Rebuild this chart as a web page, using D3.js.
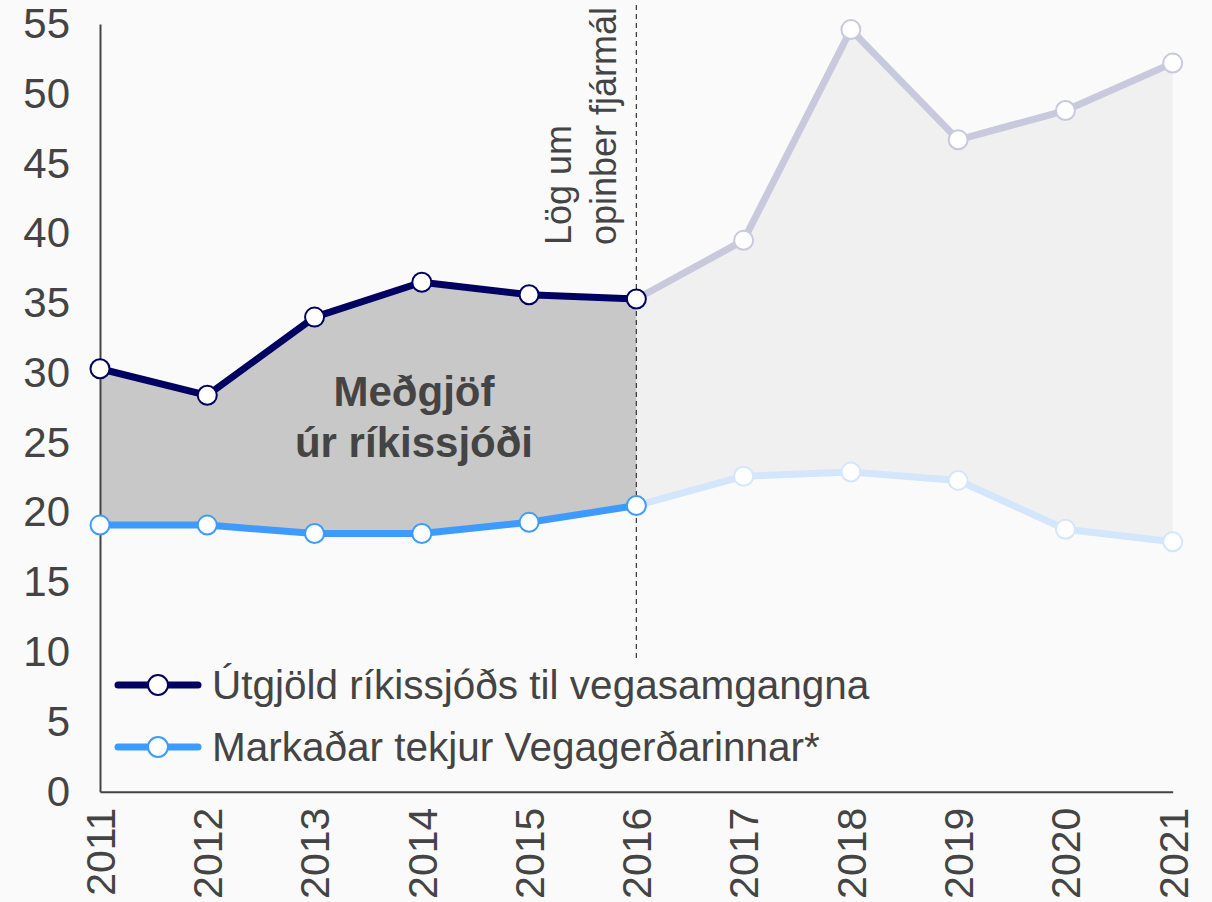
<!DOCTYPE html>
<html>
<head>
<meta charset="utf-8">
<script src="https://cdn.jsdelivr.net/npm/d3@7"></script>
<style>
  body { margin: 0; background: #fafafa; }
  text { font-family: "Liberation Sans", Arial, sans-serif; fill: #444; }
</style>
</head>
<body>
<div id="chart"></div>
<script>
var years = [2011, 2012, 2013, 2014, 2015, 2016, 2017, 2018, 2019, 2020, 2021]
var utgjold = [30.3, 28.4, 34.0, 36.5, 35.6, 35.3, 39.5, 54.6, 46.7, 48.8, 52.2]
var markadar = [19.1, 19.1, 18.5, 18.5, 19.3, 20.5, 22.6, 22.9, 22.3, 18.8, 17.9]
var yTicks = [0, 5, 10, 15, 20, 25, 30, 35, 40, 45, 50, 55]
var splitYear = 2016
var legendLabels = ['Útgjöld ríkissjóðs til vegasamgangna', 'Markaðar tekjur Vegagerðarinnar*']

var width = 1212, height = 902
var colDark = '#000060', colBlue = '#3d9bff'
var colDarkFade = '#c8c9dd', colBlueFade = '#d3e6fb'

var svg = d3.select('#chart').append('svg')
  .attr('width', width)
  .attr('height', height)

var x = d3.scalePoint().domain(years).range([100, 1172.7])
var y = d3.scaleLinear().domain([0, 55]).range([791.7, 24])

var data = years.map((d, i) => ({year: d, a: utgjold[i], b: markadar[i]}))
var before = data.filter(d => d.year <= splitYear)
var after = data.filter(d => d.year >= splitYear)

var area = d3.area()
  .x(d => x(d.year))
  .y0(d => y(d.b))
  .y1(d => y(d.a))

svg.append('path').datum(after).attr('d', area).attr('fill', '#f0f0f0')
svg.append('path').datum(before).attr('d', area).attr('fill', '#c8c8c8')

// axes
var yAxis = svg.append('g')
  .attr('transform', 'translate(100,0)')
  .call(d3.axisLeft(y).tickValues(yTicks).tickSize(0).tickPadding(30))
yAxis.select('.domain').attr('stroke', '#444').attr('stroke-width', 2)
yAxis.selectAll('text').style('font-size', '42px').attr('fill', '#484848')

var xAxis = svg.append('g')
  .attr('transform', 'translate(0,791.7)')
  .call(d3.axisBottom(x).tickSize(0).tickFormat(d3.format('d')))
xAxis.select('.domain').attr('stroke', '#444').attr('stroke-width', 2)
xAxis.selectAll('text')
  .style('font-size', '41px')
  .attr('fill', '#484848')
  .attr('text-anchor', 'end')
  .attr('dy', '0.35em')
  .attr('transform', 'translate(0,16) rotate(-90)')
  .attr('y', 0)

// dashed line at 2016
svg.append('line')
  .attr('x1', x(splitYear)).attr('x2', x(splitYear))
  .attr('y1', 5).attr('y2', 661.7)
  .attr('stroke', '#333').attr('stroke-width', 1.2)
  .attr('stroke-dasharray', '5,4')

var note = svg.append('text')
  .attr('transform', 'translate(' + (x(splitYear) - 20) + ',245) rotate(-90)')
  .style('font-size', '36px')
note.append('tspan').attr('x', 0).attr('dy', '-1.25em').text('Lög um')
note.append('tspan').attr('x', 0).attr('dy', '1.25em').text('opinber fjármál')

var line = d3.line().x(d => x(d.year))

function drawSeries(rows, key, color) {
  svg.append('path').datum(rows)
    .attr('d', line.y(d => y(d[key])))
    .attr('fill', 'none')
    .attr('stroke', color)
    .attr('stroke-width', 7)
    .attr('stroke-linejoin', 'round')
}
drawSeries(after, 'a', colDarkFade)
drawSeries(after, 'b', colBlueFade)
drawSeries(before, 'a', colDark)
drawSeries(before, 'b', colBlue)

function drawDots(rows, key, color) {
  svg.append('g').selectAll('circle')
    .data(rows)
    .enter()
      .append('circle')
      .attr('cx', d => x(d.year))
      .attr('cy', d => y(d[key]))
      .attr('r', 9.5)
      .attr('fill', '#fff')
      .attr('stroke', color)
      .attr('stroke-width', 2)
}
drawDots(after.slice(1), 'a', colDarkFade)
drawDots(after.slice(1), 'b', colBlueFade)
drawDots(before, 'a', colDark)
drawDots(before, 'b', colBlue)

// label inside the grey area
var lab = svg.append('text')
  .attr('x', 414).attr('y', 406)
  .attr('text-anchor', 'middle')
  .style('font-size', '42px')
  .style('font-weight', 'bold')
lab.append('tspan').attr('x', 414).text('Meðgjöf')
lab.append('tspan').attr('x', 414).attr('dy', '1.22em').text('úr ríkissjóði')

// legend
var legend = svg.append('g').selectAll('g')
  .data(legendLabels)
  .enter()
    .append('g')
    .attr('transform', (d, i) => 'translate(118,' + (685 + i * 62) + ')')
legend.append('line')
  .attr('x1', 0).attr('x2', 80)
  .attr('stroke', (d, i) => i == 0 ? colDark : colBlue)
  .attr('stroke-width', 7)
  .attr('stroke-linecap', 'round')
legend.append('circle')
  .attr('cx', 40).attr('r', 10)
  .attr('fill', '#fff')
  .attr('stroke', (d, i) => i == 0 ? colDark : colBlue)
  .attr('stroke-width', 2)
legend.append('text')
  .attr('x', 94).attr('dy', '0.35em')
  .style('font-size', '40.5px')
  .text(d => d)
</script>
</body>
</html>
